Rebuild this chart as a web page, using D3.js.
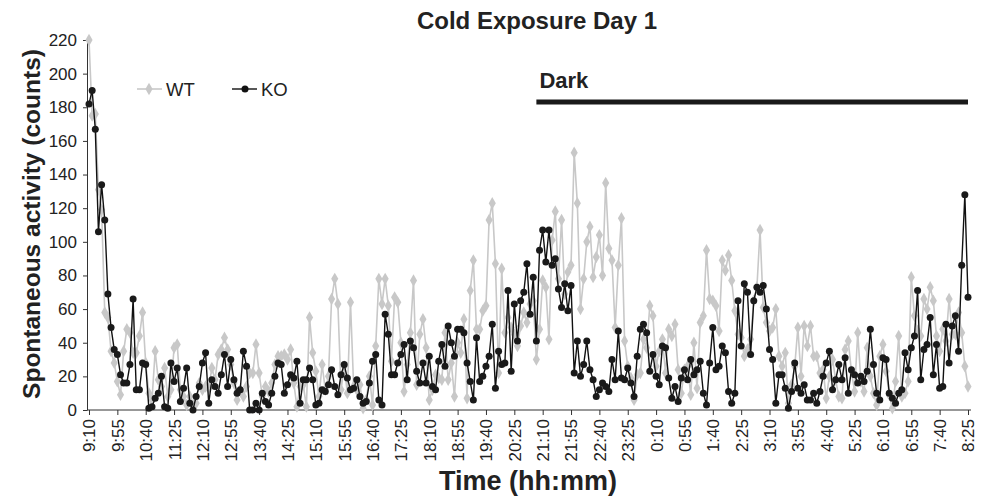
<!DOCTYPE html>
<html>
<head>
<meta charset="utf-8">
<script src="https://d3js.org/d3.v7.min.js"></script>
<title>Cold Exposure Day 1</title>
<style>
body { margin: 0; background: #fff; font-family: "Liberation Sans", Arial, sans-serif; }
.axis text { font-size: 17px; fill: #222; font-family: "Liberation Sans", Arial, sans-serif; }
.axis path, .axis line { stroke: #333; }
</style>
</head>
<body>
<svg id="chart" width="984" height="498"></svg>
<script>
// x tick labels, one every 45 min (every 9th reading)
const tickLabels = ["9:10","9:55","10:40","11:25","12:10","12:55","13:40","14:25","15:10","15:55",
  "16:40","17:25","18:10","18:55","19:40","20:25","21:10","21:55","22:40","23:25","0:10","0:55",
  "1:40","2:25","3:10","3:55","4:40","5:25","6:10","6:55","7:40","8:25"];
const yTicks = [0,20,40,60,80,100,120,140,160,180,200,220];

// WT readings, every 5 min
const wt = [
  220,175,176,131,119,58,55,35,28,17,9,35,48,46,34,34,44,58,28,10,6,35,18,14,25,8,12,37,39,
  12,8,3,8,3,4,16,12,14,13,25,18,33,36,43,36,27,16,6,12,8,14,22,22,39,22,8,14,
  11,16,27,32,32,33,30,36,16,2,14,15,2,55,34,23,8,27,12,20,66,78,63,12,26,10,64,14,12,
  15,1,6,20,3,38,78,63,78,62,29,67,64,40,11,27,46,77,15,45,54,37,6,12,21,19,18,46,
  18,28,
  8,40,34,54,7,71,89,48,48,59,62,113,123,87,22,84,46,55,49,45,38,50,58,52,63,65,30,
  48,
  77,73,42,101,118,78,113,69,82,86,153,123,60,78,100,109,79,91,104,80,135,96,89,49,86,114,41,26,
  19,6,21,22,42,37,62,56,26,35,42,22,48,44,51,24,10,24,26,9,40,13,52,56,95,66,65,62,
  47,89,83,92,77,59,45,43,32,36,42,65,73,107,61,52,47,49,60,32,26,34,4,15,26,
  49,20,
  50,38,50,32,32,22,24,7,20,30,18,8,7,36,41,23,11,46,17,11,37,20,10,3,32,39,23,
  9,1,17,44,8,10,17,79,56,47,44,66,60,73,65,44,35,48,41,66,45,45,58,46,26,14
];

// KO readings, every 5 min
const ko = [
  182,190,167,106,134,113,69,49,36,33,21,16,16,27,66,12,12,28,27,1,2,7,10,20,2,1,28,17,25,
  5,13,25,4,0,8,14,28,34,4,18,14,10,21,33,14,30,18,10,12,35,26,0,0,4,0,10,5,
  3,10,20,28,27,10,15,21,19,29,4,18,18,25,18,3,4,12,11,15,24,14,9,21,27,19,12,13,18,
  8,4,5,16,29,33,6,3,57,45,21,21,28,33,39,18,41,37,23,16,28,16,32,14,12,29,39,26,50,
  40,
  32,48,48,46,28,17,6,43,17,20,26,32,51,13,35,27,28,71,23,63,41,65,70,87,57,79,41,95,
  107,88,107,86,90,72,61,75,59,74,22,41,20,27,41,24,18,8,12,16,14,11,30,18,47,19,18,25,
  16,8,32,48,51,46,23,33,20,15,38,37,19,7,14,5,19,24,18,30,21,24,29,10,3,28,49,24,
  26,38,34,11,4,10,65,38,75,70,33,65,73,70,74,60,36,30,4,21,21,13,1,11,28,
  13,10,15,6,6,10,4,11,20,28,35,12,18,27,18,31,10,24,21,16,20,17,23,48,27,10,6,31,30,
  10,7,4,10,12,34,24,37,44,71,18,36,39,55,21,39,13,14,51,28,50,56,35,86,128,67
];

// dark phase, as reading index
const darkFrom = 142, darkTo = 279;

var svg = d3.select("#chart");

var x = d3.scaleLinear().domain([0, wt.length - 1]).range([89, 968]);
var y = d3.scaleLinear().domain([0, 220]).range([410, 40]);

// y axis
var yAxis = d3.axisLeft(y).tickValues(yTicks).tickSizeInner(4).tickSizeOuter(0).tickPadding(6);
svg.append("g").attr("class", "axis")
  .attr("transform", "translate(87,0)")
  .call(yAxis);

// x axis
var xAxis = d3.axisBottom(x)
  .tickValues(d3.range(0, wt.length, 9))
  .tickFormat(function(d, i) { return tickLabels[i]; })
  .tickSizeInner(5).tickSizeOuter(0);
var gx = svg.append("g").attr("class", "axis")
  .attr("transform", "translate(0,410)")
  .call(xAxis);
gx.select(".domain").remove();
gx.append("line").attr("x1", 87).attr("x2", 971).attr("y1", 0).attr("y2", 0).attr("stroke", "#333");
gx.selectAll(".tick text")
  .attr("transform", "rotate(-90)")
  .attr("x", -9).attr("y", 0).attr("dy", "0.35em")
  .style("text-anchor", "end");

// WT series (behind)
var line = d3.line().x(function(d, i) { return x(i); }).y(function(d) { return y(d); });
svg.append("path").datum(wt)
  .attr("fill", "none").attr("stroke", "#c8c8c8").attr("stroke-width", 1.6)
  .attr("d", line);
var diamond = d3.symbol().type(d3.symbolDiamond).size(44);
svg.append("g").selectAll("path")
  .data(wt).enter().append("path")
  .attr("transform", function(d, i) { return "translate(" + x(i) + "," + y(d) + ")"; })
  .attr("d", diamond)
  .attr("fill", "#c8c8c8");

// KO series
svg.append("path").datum(ko)
  .attr("fill", "none").attr("stroke", "#111").attr("stroke-width", 1.4)
  .attr("d", line);
svg.append("g").selectAll("circle")
  .data(ko).enter().append("circle")
  .attr("cx", function(d, i) { return x(i); })
  .attr("cy", function(d) { return y(d); })
  .attr("r", 3.5)
  .attr("fill", "#1a1a1a");

// dark bar
svg.append("line")
  .attr("x1", x(darkFrom)).attr("x2", x(darkTo))
  .attr("y1", 102).attr("y2", 102)
  .attr("stroke", "#1a1a1a").attr("stroke-width", 5);
svg.append("text").attr("x", x(darkFrom) + 3).attr("y", 88)
  .style("font-size", "22px").style("font-weight", "bold").style("fill", "#222")
  .text("Dark");

// legend
var legend = [{name: "WT", x: 137, col: "#c8c8c8", sym: "d"}, {name: "KO", x: 232, col: "#111", sym: "c"}];
legend.forEach(function(l) {
  svg.append("line").attr("x1", l.x).attr("x2", l.x + 25).attr("y1", 89).attr("y2", 89)
    .attr("stroke", l.col).attr("stroke-width", l.sym == "d" ? 1.6 : 1.4);
  if (l.sym == "d") {
    svg.append("path").attr("transform", "translate(" + (l.x + 12) + ",89)").attr("d", diamond).attr("fill", l.col);
  } else {
    svg.append("circle").attr("cx", l.x + 13).attr("cy", 89).attr("r", 3.5).attr("fill", l.col);
  }
  svg.append("text").attr("x", l.x + 29).attr("y", 96)
    .style("font-size", "18.5px").style("fill", "#222").text(l.name);
});

// titles
svg.append("text").attr("x", 537).attr("y", 29).attr("text-anchor", "middle")
  .style("font-size", "24px").style("font-weight", "bold").style("fill", "#222")
  .text("Cold Exposure Day 1");
svg.append("text").attr("x", 528).attr("y", 490).attr("text-anchor", "middle")
  .style("font-size", "27px").style("font-weight", "bold").style("fill", "#222")
  .text("Time (hh:mm)");
svg.append("text").attr("transform", "translate(40,224) rotate(-90)").attr("text-anchor", "middle")
  .style("font-size", "24.5px").style("font-weight", "bold").style("fill", "#222")
  .text("Spontaneous activity (counts)");
</script>
</body>
</html>
